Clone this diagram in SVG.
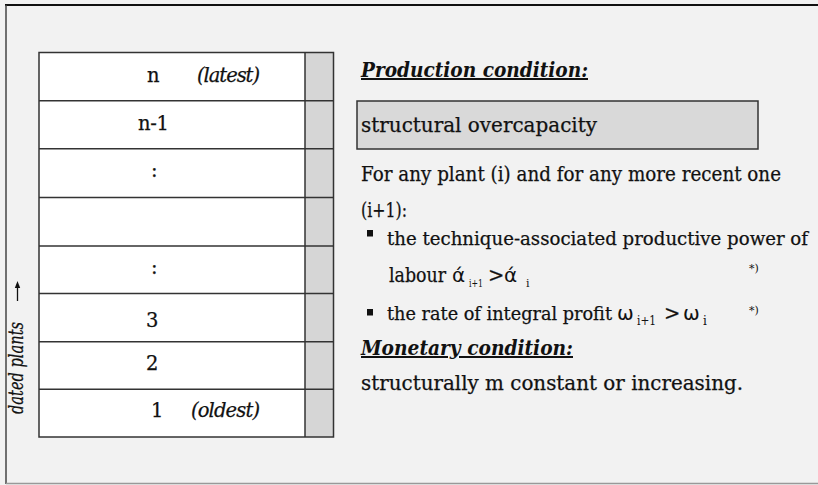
<svg xmlns="http://www.w3.org/2000/svg" width="818" height="485" viewBox="0 0 818 485">
<style>
.t{font-family:"DejaVu Serif","Liberation Serif",serif;font-size:19.5px;fill:#111;stroke:#111;stroke-width:0.25}
.it{font-style:italic}
.h{font-family:"DejaVu Serif","Liberation Serif",serif;font-size:20px;font-weight:bold;font-style:italic;fill:#111;text-decoration:underline}
.g{font-family:"DejaVu Sans","Liberation Sans",sans-serif;font-size:20px;fill:#111}
.sub{font-family:"DejaVu Serif","Liberation Serif",serif;font-size:11px;fill:#111}
.ln{stroke:#333;stroke-width:1.5;fill:none}
</style>
<rect x="0" y="0" width="818" height="485" fill="#f2f2f2"/>
<line x1="5" y1="5" x2="818" y2="5" stroke="#111" stroke-width="2"/>
<line x1="6" y1="5" x2="6" y2="484" stroke="#444" stroke-width="1.5"/>
<line x1="6" y1="483.5" x2="818" y2="483.5" stroke="#999" stroke-width="1.5"/>

<g id="table">
<rect x="39" y="52.5" width="266" height="384.5" fill="#ffffff"/>
<rect x="305" y="52.5" width="28.5" height="384.5" fill="#d6d6d6"/>
<rect x="39" y="52.5" width="294.5" height="384.5" class="ln"/>
<line x1="305" y1="52.5" x2="305" y2="437" class="ln"/>
</g>
<g id="connectors">
<line x1="39" y1="100.7" x2="333.5" y2="100.7" class="ln"/>
<line x1="39" y1="148.7" x2="333.5" y2="148.7" class="ln"/>
<line x1="39" y1="197.5" x2="333.5" y2="197.5" class="ln"/>
<line x1="39" y1="246" x2="333.5" y2="246" class="ln"/>
<line x1="39" y1="293.5" x2="333.5" y2="293.5" class="ln"/>
<line x1="39" y1="341.7" x2="333.5" y2="341.7" class="ln"/>
<line x1="39" y1="389.3" x2="333.5" y2="389.3" class="ln"/>
</g>
<g id="row-n"><text class="t" x="147" y="82">n</text><text class="t it" x="197" y="82" textLength="63">(latest)</text></g>
<g id="row-n-1"><text class="t" x="138" y="130" textLength="31">n-1</text></g>
<g id="row-dots1"><text class="t" x="151" y="177">:</text></g>
<g id="row-blank"></g>
<g id="row-dots2"><text class="t" x="151" y="274">:</text></g>
<g id="row-3"><text class="t" x="146" y="327">3</text></g>
<g id="row-2"><text class="t" x="146" y="370">2</text></g>
<g id="row-1"><text class="t" x="151" y="417">1</text><text class="t it" x="191" y="417" textLength="69">(oldest)</text></g>

<g id="axis-label">
<text class="t it" transform="translate(23,414) rotate(-90)" x="0" y="0" textLength="92" lengthAdjust="spacingAndGlyphs">dated plants</text>
<line x1="17.5" y1="301" x2="17.5" y2="286" stroke="#111" stroke-width="1.3"/>
<path d="M17.5,281 L14.8,288 L20.2,288 Z" fill="#111"/>
</g>

<g id="production">
<text class="h" x="361" y="77" textLength="227" lengthAdjust="spacingAndGlyphs">Production condition:</text>
</g>
<g id="overcapacity">
<rect x="357" y="101" width="401" height="48" fill="#d9d9d9" stroke="#333" stroke-width="1.5"/>
<text class="t" x="361" y="132" textLength="236" lengthAdjust="spacingAndGlyphs" style="font-size:21px">structural overcapacity</text>
</g>
<g id="conditions">
<text class="t" x="361" y="181" textLength="420" lengthAdjust="spacingAndGlyphs">For any plant (i) and for any more recent one</text>
<text class="t" x="361" y="217" textLength="46" lengthAdjust="spacingAndGlyphs">(i+1):</text>
<rect x="367" y="230" width="6" height="6.5" fill="#111"/>
<text class="t" x="387" y="245" textLength="421" lengthAdjust="spacingAndGlyphs" style="font-size:18px">the technique-associated productive power of</text>
<text class="t" x="389" y="282" textLength="57" lengthAdjust="spacingAndGlyphs">labour</text>
<text class="g" x="452" y="282">ά</text>
<text class="sub" x="469" y="287" textLength="14" lengthAdjust="spacingAndGlyphs">i+1</text>
<text class="t" x="488" y="282">&gt;</text>
<text class="g" x="504" y="282">ά</text>
<text class="sub" x="526" y="287">i</text>
<text class="sub" x="749" y="272">*)</text>
<rect x="367" y="309" width="6" height="6.5" fill="#111"/>
<text class="t" x="387" y="320" textLength="225" lengthAdjust="spacingAndGlyphs" style="font-size:18px">the rate of integral profit</text>
<text class="g" x="617" y="320">ω</text>
<text class="sub" x="637" y="325" textLength="19" lengthAdjust="spacingAndGlyphs" style="font-size:12px">i+1</text>
<text class="t" x="664" y="320">&gt;</text>
<text class="g" x="683" y="320">ω</text>
<text class="sub" x="703" y="325" style="font-size:12px">i</text>
<text class="sub" x="749" y="314">*)</text>
</g>
<g id="monetary">
<text class="h" x="361" y="355" textLength="212" lengthAdjust="spacingAndGlyphs">Monetary condition:</text>
<text class="t" x="361" y="390" textLength="382" lengthAdjust="spacingAndGlyphs">structurally m constant or increasing.</text>
</g>
</svg>
